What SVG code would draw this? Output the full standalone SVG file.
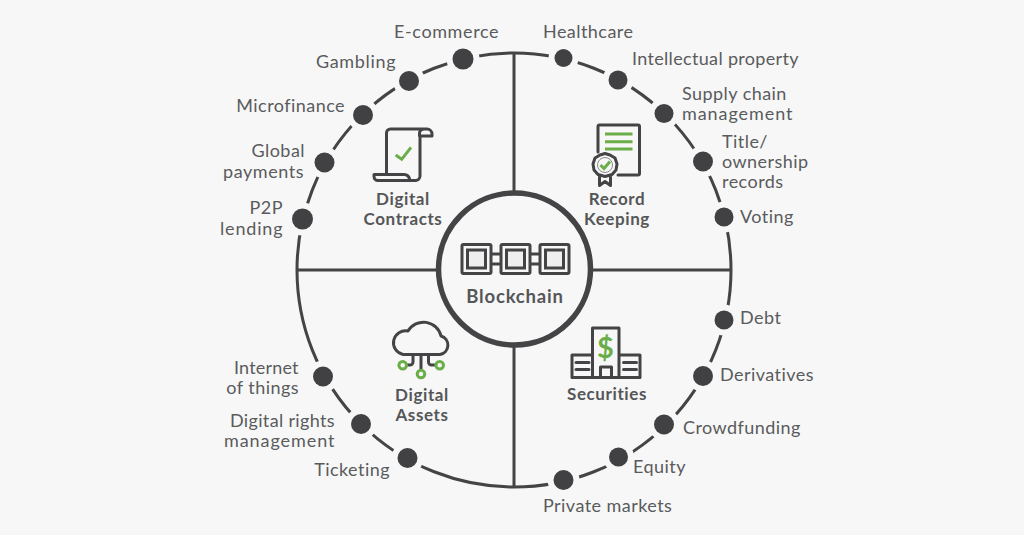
<svg xmlns="http://www.w3.org/2000/svg" width="1024" height="535" viewBox="0 0 1024 535">
<style>
.l{font-family:"Lato","Liberation Sans",sans-serif;font-size:18px;fill:#5a5b5d;letter-spacing:.45px}
.e{text-anchor:end}
.b{font-family:"Lato","Liberation Sans",sans-serif;font-size:17px;font-weight:700;fill:#555658;text-anchor:middle;letter-spacing:.6px}
.c{fill:none;stroke:#444446;stroke-width:3}
.d{fill:#414143;stroke:#f7f7f7;stroke-width:12;paint-order:stroke}
.i{fill:none;stroke:#444446;stroke-width:3;stroke-linejoin:round;stroke-linecap:round}
.g{fill:none;stroke:#69ae48;stroke-width:3}
</style>
<rect width="1024" height="535" fill="#f7f7f7"/>
<g id="connectors">
<circle class="c" cx="514" cy="270" r="217"/>
<path class="c" d="M514 53V193M514 347V487M297 270H437M591 270H731"/>
</g>
<g id="hub">
<circle cx="514.5" cy="269" r="76" fill="#f7f7f7" stroke="#444446" stroke-width="5.5"/>
<g fill="none" stroke="#444446" stroke-width="3">
<rect x="462" y="244.500" width="29" height="29" rx="1.500"/><rect x="467.500" y="250" width="18" height="18" fill="#efefef"/>
<rect x="501" y="244.500" width="29" height="29" rx="1.500"/><rect x="506.500" y="250" width="18" height="18" fill="#efefef"/>
<rect x="540" y="244.500" width="29" height="29" rx="1.500"/><rect x="545.500" y="250" width="18" height="18" fill="#efefef"/>
<path d="M490 254H502M529 254H541M490 264H502M529 264H541" stroke-width="3"/>
</g>
<text class="b" x="515" y="303" style="font-size:18.500px;letter-spacing:.8px">Blockchain</text>
</g>
<g id="digital-contracts">
<path class="i" d="M386.500 173V133a4 4 0 0 1 4-4H427a5 5 0 0 1 5 5V136H419.500M420 136V176a4.500 4.500 0 0 1-4.500 4.500H378a4 4 0 0 1-4-4v-2H404q5 0 6 6M419.500 136V133.500q0-4.500 5-4.500"/>
<path class="g" d="M395.700 155L401.700 159.300L411 147.300" stroke-width="3.500"/>
<text class="b" x="403" y="205">Digital</text><text class="b" x="403" y="225">Contracts</text>
</g>
<g id="record-keeping">
<path class="i" d="M598 152V126.500a1.500 1.500 0 0 1 1.500-1.500H638a1.500 1.500 0 0 1 1.500 1.500V173.500a1.500 1.500 0 0 1-1.500 1.500H618"/>
<path class="g" d="M605 134H632.500M605 141.700H632.500M605 149H632.500"/>
<path class="i" d="M605 153.500L610 155L615 158L617 164L616 170L612 174.500L605 176.500L598 174.500L594 170L593 164L595 158L600 155Z" fill="#f7f7f7"/>
<circle cx="605" cy="165" r="7.500" fill="none" stroke="#8a8a8a" stroke-width="1"/>
<path class="g" d="M600.500 165L604 168.500L610 161.500" stroke-width="3"/>
<path class="i" d="M599.500 177V185.500L605 181.500L610.500 185.500V177"/>
<text class="b" x="617" y="205">Record</text><text class="b" x="617" y="225">Keeping</text>
</g>
<g id="digital-assets">
<path class="i" d="M403 354.500H440A9.500 9.500 0 0 0 441 336A18 18 0 0 0 408 331A12 12 0 0 0 403 354.500Z"/>
<path class="i" d="M421 355V369M413 355V362a3 3 0 0 1-3 3H407M428.500 355V362a3 3 0 0 0 3 3H435" stroke-width="2.500"/>
<g class="g"><circle cx="402.700" cy="365.300" r="3.800"/><circle cx="421" cy="374" r="3.800"/><circle cx="439.700" cy="365.300" r="3.800"/></g>
<text class="b" x="422" y="401">Digital</text><text class="b" x="422" y="421">Assets</text>
</g>
<g id="securities">
<path class="i" stroke-linecap="butt" d="M592.500 377.500V328H619V377.500M592.500 355H572V377.500H640V355H619M600.500 377.500V367H611.500V377.500"/>
<path class="i" stroke-width="2.500" d="M576 362.500H589M576 369.500H589M623.500 362.500H636.500M623.500 369.500H636.500"/>
<text x="605.500" y="358" font-family="Lato,'Liberation Sans',sans-serif" font-size="29" font-weight="700" fill="#69ae48" text-anchor="middle">$</text>
<text class="b" x="607" y="400">Securities</text>
</g>
<g id="n-ecommerce"><circle class="d" cx="463" cy="59" r="10.500"/><text class="l" x="394" y="38" textLength="105">E-commerce</text></g>
<g id="n-gambling"><circle class="d" cx="409" cy="81" r="10"/><text class="l" x="316" y="68" textLength="80">Gambling</text></g>
<g id="n-microfinance"><circle class="d" cx="363" cy="115" r="10"/><text class="l e" x="345" y="112">Microfinance</text></g>
<g id="n-global"><circle class="d" cx="324.500" cy="162.500" r="10"/><text class="l e" x="305" y="157">Global</text><text class="l" x="223" y="178" textLength="81">payments</text></g>
<g id="n-p2p"><circle class="d" cx="302.500" cy="219" r="10.500"/><text class="l e" x="283" y="214">P2P</text><text class="l" x="220" y="235" textLength="63">lending</text></g>
<g id="n-healthcare"><circle class="d" cx="563.500" cy="58" r="9"/><text class="l" x="543" y="38">Healthcare</text></g>
<g id="n-ip"><circle class="d" cx="618" cy="80" r="9.500"/><text class="l" x="632" y="65" textLength="167">Intellectual property</text></g>
<g id="n-supply"><circle class="d" cx="664" cy="113.500" r="9.500"/><text class="l" x="682" y="100">Supply chain</text><text class="l" x="682" y="120" textLength="111">management</text></g>
<g id="n-title"><circle class="d" cx="703" cy="161.500" r="10"/><text class="l" x="722" y="148">Title/</text><text class="l" x="722" y="168">ownership</text><text class="l" x="722" y="188">records</text></g>
<g id="n-voting"><circle class="d" cx="724" cy="217" r="9.500"/><text class="l" x="740" y="223">Voting</text></g>
<g id="n-debt"><circle class="d" cx="724" cy="320" r="9.500"/><text class="l" x="740" y="324">Debt</text></g>
<g id="n-derivatives"><circle class="d" cx="703" cy="376" r="10"/><text class="l" x="720" y="381">Derivatives</text></g>
<g id="n-crowdfunding"><circle class="d" cx="664" cy="424.500" r="10"/><text class="l" x="683" y="434">Crowdfunding</text></g>
<g id="n-equity"><circle class="d" cx="618.500" cy="457" r="9.500"/><text class="l" x="633" y="473">Equity</text></g>
<g id="n-private"><circle class="d" cx="563.500" cy="480" r="10"/><text class="l" x="543" y="512">Private markets</text></g>
<g id="n-iot"><circle class="d" cx="323" cy="376.500" r="10"/><text class="l" x="234" y="374" textLength="65">Internet</text><text class="l e" x="299" y="394">of things</text></g>
<g id="n-drm"><circle class="d" cx="361" cy="424" r="10"/><text class="l" x="230" y="427" textLength="105">Digital rights</text><text class="l" x="224" y="447" textLength="111">management</text></g>
<g id="n-ticketing"><circle class="d" cx="407.500" cy="458" r="10"/><text class="l e" x="390" y="476">Ticketing</text></g>
</svg>
